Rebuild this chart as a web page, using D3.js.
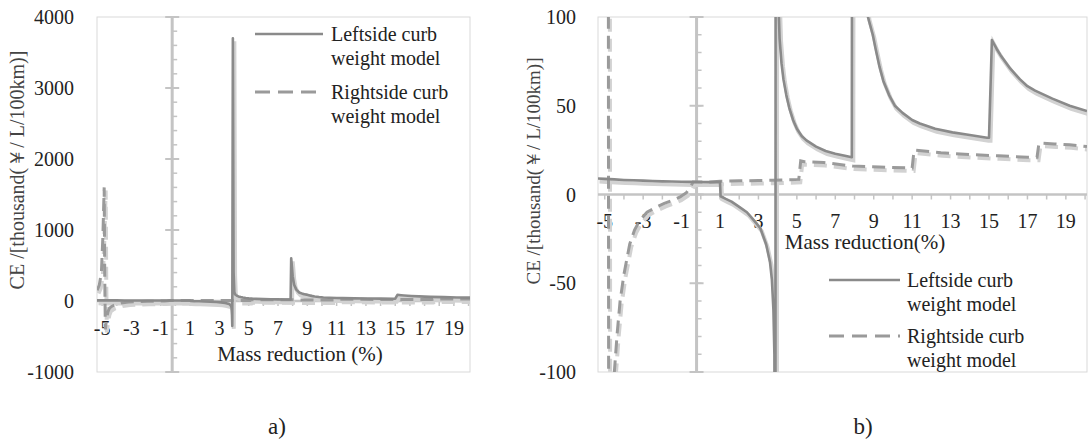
<!DOCTYPE html>
<html>
<head>
<meta charset="utf-8">
<script src="https://cdn.jsdelivr.net/npm/d3@7"></script>
<style>
  html, body { margin: 0; padding: 0; background: #fff; }
  svg { display: block; }
</style>
</head>
<body>
<svg id="chart" width="1089" height="442"></svg>
<script>
// ---------------- data ----------------
const seriesNames = ["Leftside curb weight model", "Rightside curb weight model"];

// Leftside curb weight model (solid)
const leftX = [-5.35, -5, -4.5, -4, -3.5, -3, -2.5, -2, -1.5, -1, -0.5, 0, 0.5, 1.0, 1.03, 1.3, 1.6, 2.0, 2.4, 2.8, 3.1, 3.4, 3.6, 3.7, 3.78, 3.83, 3.86, 3.88, 3.92, 3.97, 4.02, 4.05, 4.1, 4.2, 4.3, 4.45, 4.6, 4.8, 5.0, 5.25, 5.5, 6.0, 6.5, 7.0, 7.5, 7.86, 7.9, 7.95, 8.0, 8.1, 8.25, 8.45, 8.7, 8.8, 8.95, 9.1, 9.3, 9.5, 9.8, 10.1, 10.5, 11.0, 11.4, 12.2, 13.1, 14.0, 14.9, 15.0, 15.15, 15.4, 15.6, 16.1, 16.6, 17.0, 17.4, 18.3, 19.2, 20.1];
const leftY = [9, 8.8, 8.5, 8.2, 8, 7.8, 7.6, 7.4, 7.3, 7.2, 7.1, 7, 7, 7, -1, -2.5, -4, -7, -10, -15, -19, -28, -38, -48, -65, -90, -200, -350, 3700, 400, 130, 105, 88, 74, 65, 56, 49, 42, 37, 33, 30.5, 27, 24.5, 23, 21.8, 21, 600, 480, 350, 230, 160, 120, 100, 96, 90, 82, 72, 64, 56, 50, 46, 42, 40, 37, 35, 33.5, 32, 32, 87, 82, 78.5, 71, 65, 61, 58.5, 54, 50, 47];

// Rightside curb weight model (dashed)
const rightX = [-5.35, -5.2, -5.05, -4.95, -4.86, -4.82, -4.78, -4.7, -4.6, -4.5, -4.35, -4.2, -4.0, -3.7, -3.45, -3.2, -2.8, -2.3, -1.9, -1.5, -1.1, -0.75, -0.55, -0.4, -0.3, 0, 0.5, 1, 2, 3, 3.75, 4.5, 5.1, 5.2, 5.4, 6.4, 7.9, 9.3, 10.7, 11.0, 11.1, 12.5, 14, 15.5, 17.0, 17.5, 17.6, 18.4, 19.2, 20.1];
const rightY = [150, 220, 400, 900, 1600, 300, -400, -250, -150, -100, -78, -60, -45, -28, -20, -15, -10, -7, -5, -3.4, -1.5, 1, 4, 7, 7, 7, 7, 7.5, 7.7, 7.9, 8, 8.3, 8.5, 19, 18.5, 18, 16, 15.5, 15, 15, 25, 23.5, 22.5, 21.8, 21, 21, 29, 28.5, 28, 27];

const xTickLabels = [-5, -3, -1, 1, 3, 5, 7, 9, 11, 13, 15, 17, 19];
const yTicksA = [-1000, 0, 1000, 2000, 3000, 4000];
const yTicksB = [-100, -50, 0, 50, 100];
const yTitle = "CE /[thousand(\uFFE5/ L/100km)]";
const xTitle = ["Mass reduction (%)", "Mass reduction(%)"];
const captions = ["a)", "b)"];

// ---------------- drawing ----------------
const FONT = "'Liberation Serif', 'Tinos', 'Times New Roman', 'DejaVu Serif', 'Noto Serif', serif";
const svg = d3.select("#chart");
const lineColor = "#8a8a8a";
const shadowColor = "#d2d2d2";
const axisColor = "#c4c4c4";

const leftData = leftX.map((x, i) => ({x, y: leftY[i]}));
const rightData = rightX.map((x, i) => ({x, y: rightY[i]}));

function txt(sel) {
  return sel.attr("font-family", FONT).attr("fill", "#222");
}

function panel(cfg) {
  const g = svg.append("g");
  const x = d3.scaleLinear().domain([-5.35, 20.1]).range([cfg.x0, cfg.x1]);
  const y = d3.scaleLinear().domain(cfg.yDomain).range([cfg.y1, cfg.y0]);

  g.append("rect").attr("x", cfg.x0).attr("y", cfg.y0)
    .attr("width", cfg.x1 - cfg.x0).attr("height", cfg.y1 - cfg.y0)
    .attr("fill", "none").attr("stroke", "#d9d9d9").attr("stroke-width", 1);

  txt(g.selectAll(".yl").data(cfg.yTicks).enter().append("text"))
    .attr("x", cfg.yLabelX).attr("y", d => y(d) + 7)
    .attr("text-anchor", "end").attr("font-size", 20)
    .text(d => d);

  txt(g.append("text"))
    .attr("transform", `translate(${cfg.yTitleX},${cfg.yTitleY}) rotate(-90)`)
    .attr("text-anchor", "middle").attr("font-size", cfg.yTitleSize)
    .attr("fill", "#444")
    .text(yTitle);

  const y0 = y(0);
  g.append("line").attr("x1", cfg.x0).attr("x2", cfg.x1).attr("y1", y0).attr("y2", y0)
    .attr("stroke", axisColor).attr("stroke-width", 2.5);
  g.selectAll(".xt").data(d3.range(-5, 21)).enter().append("line")
    .attr("x1", d => x(d)).attr("x2", d => x(d))
    .attr("y1", y0).attr("y2", y0 + 5)
    .attr("stroke", axisColor).attr("stroke-width", 1.5);

  const vx = x(-0.22);
  g.append("line").attr("x1", vx).attr("x2", vx).attr("y1", cfg.y0).attr("y2", cfg.y1)
    .attr("stroke", axisColor).attr("stroke-width", 3);
  const minorT = d3.range(cfg.yDomain[0], cfg.yDomain[1] + 1e-9, cfg.yMinor);
  g.selectAll(".ymn").data(minorT).enter().append("line")
    .attr("x1", vx).attr("x2", vx + 5)
    .attr("y1", d => y(d)).attr("y2", d => y(d))
    .attr("stroke", axisColor).attr("stroke-width", 1.5);
  g.selectAll(".ymj").data(cfg.yTicks).enter().append("line")
    .attr("x1", vx - 7).attr("x2", vx + 7)
    .attr("y1", d => y(d)).attr("y2", d => y(d))
    .attr("stroke", axisColor).attr("stroke-width", 2);

  txt(g.selectAll(".xl").data(xTickLabels).enter().append("text"))
    .attr("x", d => x(d)).attr("y", y0 + cfg.xLabelDy)
    .attr("text-anchor", "middle").attr("font-size", 20)
    .text(d => d);

  txt(g.append("text")).attr("x", cfg.xTitleX).attr("y", cfg.xTitleY)
    .attr("text-anchor", "middle").attr("font-size", 21)
    .text(cfg.xTitle);

  const clipId = "clip" + cfg.id;
  svg.append("clipPath").attr("id", clipId).append("rect")
    .attr("x", cfg.x0).attr("y", cfg.y0)
    .attr("width", cfg.x1 - cfg.x0).attr("height", cfg.y1 - cfg.y0);
  const dg = g.append("g").attr("clip-path", `url(#${clipId})`);
  const span = cfg.yDomain[1] - cfg.yDomain[0];
  const line = d3.line().x(d => x(d.x))
    .y(d => y(Math.max(cfg.yDomain[0] - 5 * span, Math.min(d.y, cfg.yDomain[1] + 5 * span))));

  dg.append("path").datum(rightData).attr("d", line)
    .attr("transform", "translate(1.5,3)")
    .attr("fill", "none").attr("stroke", shadowColor).attr("stroke-width", 4)
    .attr("stroke-dasharray", "13,7");
  dg.append("path").datum(leftData).attr("d", line)
    .attr("transform", "translate(1.5,3)")
    .attr("fill", "none").attr("stroke", shadowColor).attr("stroke-width", 4);
  dg.append("path").datum(rightData).attr("d", line)
    .attr("fill", "none").attr("stroke", "#9a9a9a").attr("stroke-width", 3)
    .attr("stroke-dasharray", "13,7");
  dg.append("path").datum(leftData).attr("d", line)
    .attr("fill", "none").attr("stroke", lineColor).attr("stroke-width", 2.6)
    .attr("stroke-linejoin", "round");

  const lg = g.append("g");
  const L = cfg.legend;
  lg.append("line").attr("x1", L.x1).attr("x2", L.x2).attr("y1", L.y1).attr("y2", L.y1)
    .attr("stroke", lineColor).attr("stroke-width", 2.5);
  lg.append("line").attr("x1", L.x1).attr("x2", L.x2).attr("y1", L.y2).attr("y2", L.y2)
    .attr("stroke", "#9a9a9a").attr("stroke-width", 3).attr("stroke-dasharray", "15,8");
  const rows = [
    ["Leftside curb", L.y1 + 7], ["weight model", L.y1 + 31],
    ["Rightside curb", L.y2 + 7], ["weight model", L.y2 + 31]
  ];
  txt(lg.selectAll("text").data(rows).enter().append("text"))
    .attr("x", L.tx).attr("y", d => d[1]).attr("font-size", 20)
    .text(d => d[0]);

  txt(svg.append("text")).attr("x", cfg.capX).attr("y", 434)
    .attr("text-anchor", "middle").attr("font-size", 23)
    .text(cfg.caption);
}

panel({
  id: "a", x0: 97, x1: 470, y0: 17, y1: 372,
  yDomain: [-1000, 4000], yTicks: yTicksA, yMinor: 200,
  yLabelX: 74, yTitleX: 24, yTitleY: 170, yTitleSize: 20,
  xLabelDy: 34, xTitle: xTitle[0], xTitleX: 300, xTitleY: 361,
  legend: {x1: 255, x2: 323, y1: 34, y2: 92, tx: 331},
  caption: captions[0], capX: 277
});

panel({
  id: "b", x0: 598, x1: 1087, y0: 17, y1: 372,
  yDomain: [-100, 100], yTicks: yTicksB, yMinor: 10,
  yLabelX: 576, yTitleX: 540, yTitleY: 171, yTitleSize: 19,
  xLabelDy: 33, xTitle: xTitle[1], xTitleX: 865, xTitleY: 249,
  legend: {x1: 829, x2: 900, y1: 280, y2: 336, tx: 907},
  caption: captions[1], capX: 863
});
</script>
</body>
</html>
